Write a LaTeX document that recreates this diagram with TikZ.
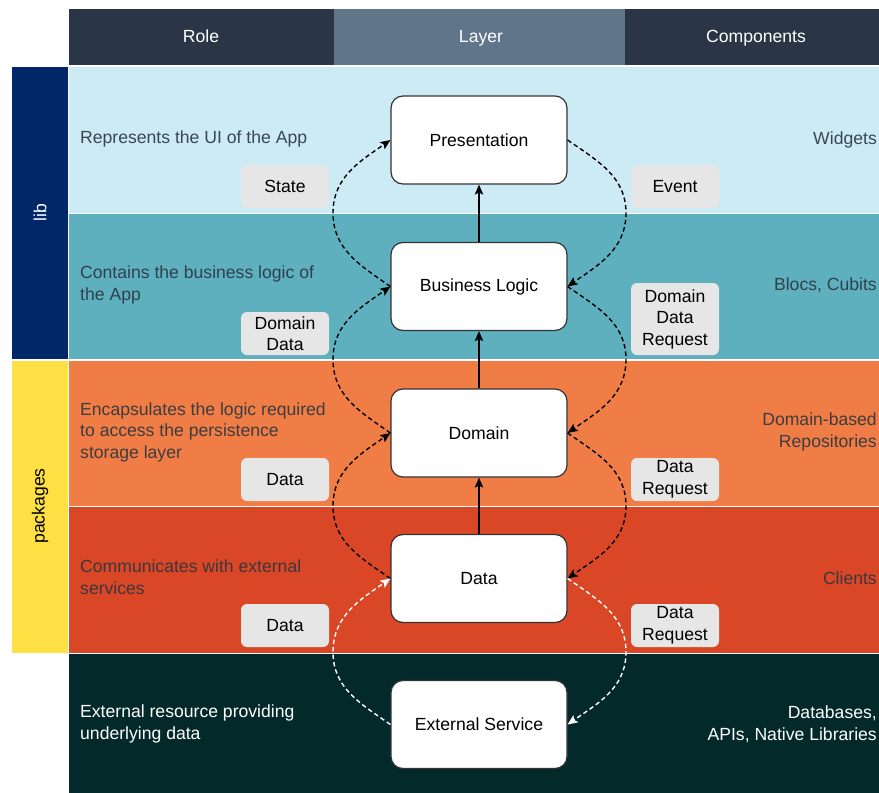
\documentclass[tikz,border=0pt]{standalone}
\usepackage{fontspec}
\setmainfont{Liberation Sans}
\usetikzlibrary{arrows.meta}

\definecolor{headdark}{HTML}{2A3546}
\definecolor{headmid}{HTML}{60758A}
\definecolor{bandui}{HTML}{CCEBF4}
\definecolor{bandbloc}{HTML}{5EB0BF}
\definecolor{banddomain}{HTML}{EF7D45}
\definecolor{banddata}{HTML}{D94727}
\definecolor{bandext}{HTML}{04292B}
\definecolor{libblue}{HTML}{002767}
\definecolor{pkgyellow}{HTML}{FFE044}
\definecolor{tagfill}{HTML}{E6E6E6}
\definecolor{roleink}{HTML}{2B3540}

\tikzset{
  txt/.style={font=\fontsize{17.6}{21.5}\selectfont},
  headtext/.style={txt, text=white, anchor=base},
  sidetext/.style={txt, rotate=90},
  layerbox/.style={txt, draw=black!80, fill=white, line width=1.2pt, rounded corners=12pt,
    minimum width=176pt, minimum height=88pt},
  tagbox/.style={txt, fill=tagfill, rounded corners=6pt, minimum width=88pt, minimum height=43pt,
    inner sep=0pt, align=center},
  roletext/.style={txt, anchor=west, inner sep=0pt, align=left, text=roleink, text opacity=0.9},
  comptext/.style={txt, anchor=east, inner sep=0pt, align=right, text=roleink, text opacity=0.9},
  flowup/.style={-{Stealth[length=10pt,width=8.5pt,inset=2pt]}, line width=1.3pt},
  dflow/.style={-{Stealth[length=10pt,width=8.5pt,inset=2pt]}, line width=1.4pt,
    dash pattern=on 4.5pt off 3pt},
}

\begin{document}
\begin{tikzpicture}[x=1pt, y=-1pt]
\useasboundingbox (0,0) rectangle (879,793);

% column headers
\fill[headdark] (69,9) rectangle (334,65);
\fill[headmid] (334,9) rectangle (625,65);
\fill[headdark] (625,9) rectangle (879,65);
\node[headtext] (hrole) at (201,42.5) {Role};
\node[headtext] (hlayer) at (481,42.5) {Layer};
\node[headtext] (hcomp) at (756,42.5) {Components};

% horizontal bands
\fill[bandui] (69,67) rectangle (879,212.5);
\fill[bandbloc] (69,213.8) rectangle (879,359.2);
\fill[banddomain] (69,360.5) rectangle (879,505.5);
\fill[banddata] (69,506.8) rectangle (879,652.5);
\fill[bandext] (69,653.8) rectangle (879,793);

% side groups
\fill[libblue] (12,67) rectangle (67.5,359.2);
\fill[pkgyellow] (12,360.5) rectangle (67.5,652.5);
\node[sidetext, text=white] (lib) at (40,213) {lib};
\node[sidetext, text=black] (pkg) at (40,506) {packages};

% role descriptions
\node[roletext] (r1) at (80,139) {Represents the UI of the App};
\node[roletext] (r2) at (80,285) {Contains the business logic of\\the App};
\node[roletext] (r3) at (80,432) {Encapsulates the logic required\\to access the persistence\\storage layer};
\node[roletext] (r4) at (80,577) {Communicates with external\\services};
\node[roletext, text=white, text opacity=1] (r5) at (80,724) {External resource providing\\underlying data};

% components
\node[comptext] (c1) at (877,140) {Widgets};
\node[comptext] (c2) at (877,285) {Blocs, Cubits};
\node[comptext] (c3) at (877,432) {Domain-based\\Repositories};
\node[comptext] (c4) at (877,578) {Clients};
\node[comptext, text=white, text opacity=1] (c5) at (877,724) {Databases,\\APIs, Native Libraries};

% layers
\node[layerbox] (pres) at (479,140) {Presentation};
\node[layerbox] (bl) at (479,286.5) {Business Logic};
\node[layerbox] (dom) at (479,433) {Domain};
\node[layerbox] (dat) at (479,578.5) {Data};
\node[layerbox] (ext) at (479,724.5) {External Service};

% payload tags
\node[tagbox] (tstate) at (285,186.5) {State};
\node[tagbox] (tevent) at (675,186.5) {Event};
\node[tagbox] (tdd) at (285,333.5) {Domain\\Data};
\node[tagbox, minimum height=72pt] (tddr) at (675,319) {Domain\\Data\\Request};
\node[tagbox] (tdata3) at (285,479.5) {Data};
\node[tagbox] (tdr3) at (675,479.5) {Data\\Request};
\node[tagbox] (tdata4) at (285,625.5) {Data};
\node[tagbox] (tdr4) at (675,625.5) {Data\\Request};

% upward data flow
\draw[flowup] (bl.north) -- (pres.south);
\draw[flowup] (dom.north) -- (bl.south);
\draw[flowup] (dat.north) -- (dom.south);

% turning points of the loops
\coordinate (lA) at (333,213);
\coordinate (lB) at (333,359.5);
\coordinate (lC) at (333,506);
\coordinate (lD) at (333,652);
\coordinate (rA) at (626,213);
\coordinate (rB) at (626,359.5);
\coordinate (rC) at (626,506);
\coordinate (rD) at (626,652);

% responses travelling up (left side)
\draw[dflow] (bl.west) to[out=145, in=270] (lA) to[out=90, in=215] (pres.west);
\draw[dflow] (dom.west) to[out=145, in=270] (lB) to[out=90, in=215] (bl.west);
\draw[dflow] (dat.west) to[out=145, in=270] (lC) to[out=90, in=215] (dom.west);
\draw[dflow, draw=white] (ext.west) to[out=145, in=270] (lD) to[out=90, in=215] (dat.west);

% requests travelling down (right side)
\draw[dflow] (pres.east) to[out=-35, in=90] (rA) to[out=270, in=35] (bl.east);
\draw[dflow] (bl.east) to[out=-35, in=90] (rB) to[out=270, in=35] (dom.east);
\draw[dflow] (dom.east) to[out=-35, in=90] (rC) to[out=270, in=35] (dat.east);
\draw[dflow, draw=white] (dat.east) to[out=-35, in=90] (rD) to[out=270, in=35] (ext.east);
\end{tikzpicture}
\end{document}
